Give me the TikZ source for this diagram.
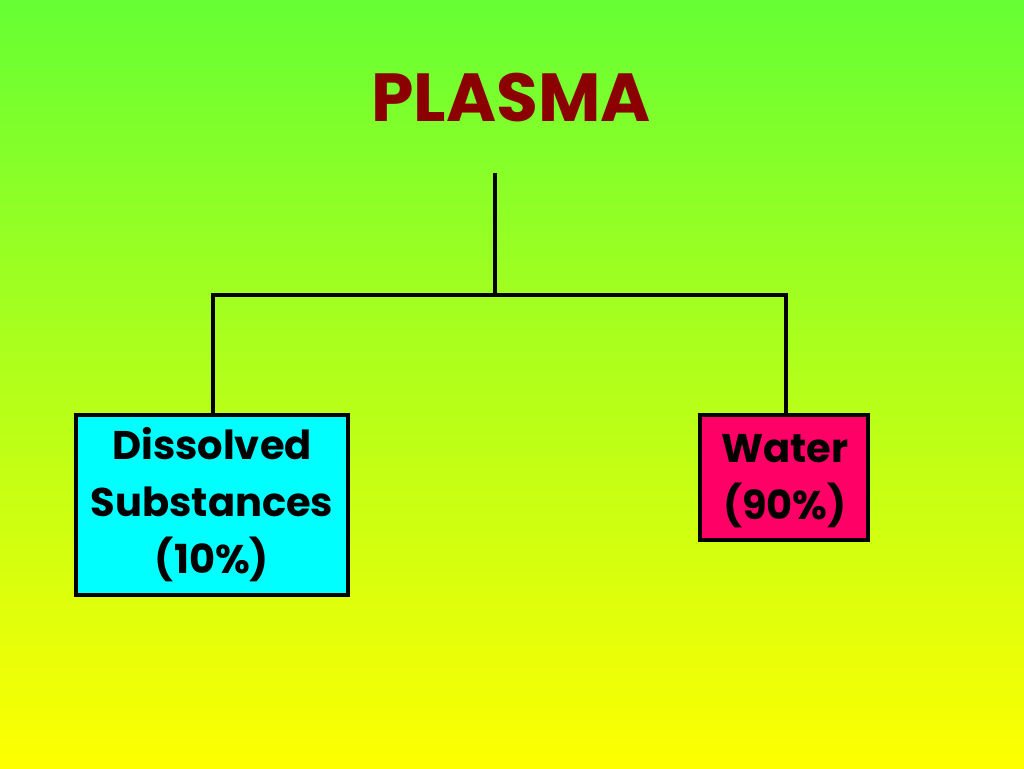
\documentclass[tikz,border=0pt]{standalone}
\usepackage{fontspec}
\setmainfont{Poppins}
\begin{document}
\begin{tikzpicture}[x=1pt,y=-1pt,
  conn/.style={line width=3.5pt,line cap=rect},
  boxed/.style={draw=black,line width=3.5pt,inner sep=0pt},
  lbl/.style={align=center,font=\bfseries\fontsize{40}{57}\selectfont,text=black},
  ttl/.style={font=\bfseries\fontsize{68}{70}\selectfont,text=titlered}]
\definecolor{topgreen}{HTML}{66FF33}
\definecolor{botyellow}{HTML}{FFFF00}
\definecolor{titlered}{HTML}{8B0000}
\definecolor{boxcyan}{HTML}{00FFFF}
\definecolor{boxpink}{HTML}{FF0066}
\shade[top color=topgreen,bottom color=botyellow] (0,0) rectangle (1024,768);
\useasboundingbox (0,0) rectangle (1024,768);
\node[ttl] (title) at (511,98) {PLASMA};
\coordinate (top) at (495,175);
\coordinate (mid) at (495,295);
\coordinate (lj) at (213,295);
\coordinate (rj) at (786,295);
\path[boxed,fill=boxcyan] (76,415) rectangle (348,595);
\node[lbl] (diss) at (212,505) {Dissolved~\\Substances\\(10\%)};
\coordinate (dtop) at (213,415);
\path[boxed,fill=boxpink] (700,415) rectangle (868,540);
\node[lbl] (water) at (785,481) {Water\\(90\%)};
\coordinate (wtop) at (786,415);
\draw[conn] (top) -- (mid);
\draw[conn] (lj) -- (rj);
\draw[conn] (lj) -- (dtop);
\draw[conn] (rj) -- (wtop);
\end{tikzpicture}
\end{document}
